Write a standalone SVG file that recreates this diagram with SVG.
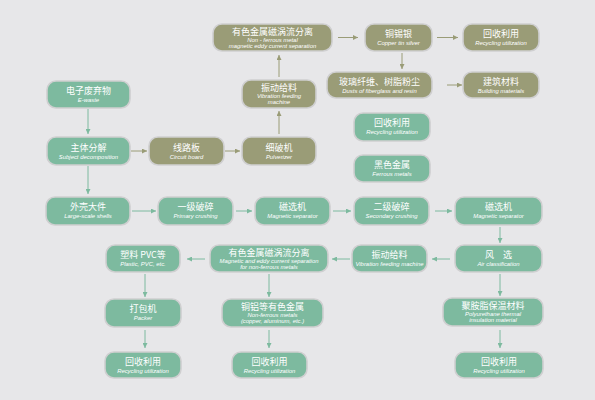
<svg xmlns="http://www.w3.org/2000/svg" width="595" height="400" viewBox="0 0 595 400">
<style>
.g rect{fill:#7dba9f;stroke:#cfcfd0;stroke-width:1.6}
.o rect{fill:#9a9c77;stroke:#cfcfd0;stroke-width:1.6}
.cn{font-family:"Noto Sans CJK SC","Noto Sans",sans-serif;font-size:9px;fill:#fff;text-anchor:middle}
.en{font-family:"Liberation Sans",Arial,sans-serif;font-size:5.9px;font-style:italic;fill:#fff;text-anchor:middle}
.cg{stroke:#7dba9f;stroke-width:1;fill:none}
.co{stroke:#9a9c77;stroke-width:1;fill:none}
</style>
<defs>
<marker id="ag" viewBox="0 0 6 6" refX="6" refY="3" markerWidth="5" markerHeight="5" orient="auto" markerUnits="userSpaceOnUse"><path d="M0,0 L6,3 L0,6 z" fill="#7dba9f"/></marker>
<marker id="ao" viewBox="0 0 6 6" refX="6" refY="3" markerWidth="5" markerHeight="5" orient="auto" markerUnits="userSpaceOnUse"><path d="M0,0 L6,3 L0,6 z" fill="#9a9c77"/></marker>
</defs>
<rect x="0" y="0" width="595" height="400" fill="#e7e7e9"/>

<g id="connectors">
<line class="cg" x1="88" y1="109" x2="88" y2="134" marker-end="url(#ag)"/>
<line class="cg" x1="88" y1="166" x2="88" y2="194" marker-end="url(#ag)"/>
<line class="co" x1="131" y1="151" x2="147" y2="151" marker-end="url(#ao)"/>
<line class="co" x1="225" y1="151" x2="240" y2="151" marker-end="url(#ao)"/>
<line class="co" x1="279" y1="134" x2="279" y2="111" marker-end="url(#ao)"/>
<line class="co" x1="279" y1="77" x2="279" y2="55" marker-end="url(#ao)"/>
<line class="co" x1="338" y1="37.5" x2="358" y2="37.5" marker-end="url(#ao)"/>
<line class="co" x1="437" y1="37.5" x2="458" y2="37.5" marker-end="url(#ao)"/>
<line class="co" x1="402" y1="53" x2="402" y2="69" marker-end="url(#ao)"/>
<line class="co" x1="447" y1="85" x2="462" y2="85" marker-end="url(#ao)"/>
<line class="cg" x1="132" y1="211" x2="156" y2="211" marker-end="url(#ag)"/>
<line class="cg" x1="236" y1="211" x2="252" y2="211" marker-end="url(#ag)"/>
<line class="cg" x1="333" y1="211" x2="351" y2="211" marker-end="url(#ag)"/>
<line class="cg" x1="435" y1="211" x2="452" y2="211" marker-end="url(#ag)"/>
<line class="cg" x1="500" y1="227" x2="500" y2="243" marker-end="url(#ag)"/>
<line class="cg" x1="450" y1="259" x2="432" y2="259" marker-end="url(#ag)"/>
<line class="cg" x1="350" y1="259" x2="332" y2="259" marker-end="url(#ag)"/>
<line class="cg" x1="205" y1="259" x2="187" y2="259" marker-end="url(#ag)"/>
<line class="cg" x1="145" y1="274" x2="145" y2="297" marker-end="url(#ag)"/>
<line class="cg" x1="269" y1="274" x2="269" y2="297" marker-end="url(#ag)"/>
<line class="cg" x1="500" y1="274" x2="500" y2="296" marker-end="url(#ag)"/>
<line class="cg" x1="145" y1="330" x2="145" y2="348" marker-end="url(#ag)"/>
<line class="cg" x1="269" y1="330" x2="269" y2="348" marker-end="url(#ag)"/>
<line class="cg" x1="500" y1="330" x2="500" y2="348" marker-end="url(#ag)"/>
</g>

<g id="n-top-eddy" class="o"><rect x="213" y="24" width="119" height="27" rx="9"/>
<text class="cn" x="272.5" y="34.5">有色金属磁涡流分离</text>
<text class="en" x="272.5" y="41.5">Non - ferrous metal</text>
<text class="en" x="272.5" y="47.5">magnetic eddy current separation</text></g>

<g id="n-cu-sn-ag" class="o"><rect x="365" y="24" width="67" height="27" rx="9"/>
<text class="cn" x="398.5" y="37">铜锡银</text>
<text class="en" x="398.5" y="45">Copper tin silver</text></g>

<g id="n-top-recycle" class="o"><rect x="463" y="24" width="76" height="27" rx="9"/>
<text class="cn" x="501" y="37">回收利用</text>
<text class="en" x="501" y="45">Recycling utilization</text></g>

<g id="n-vib-top" class="o"><rect x="242" y="80" width="74" height="28" rx="9"/>
<text class="cn" x="279" y="90.5">振动给料</text>
<text class="en" x="279" y="97.5">Vibration feeding</text>
<text class="en" x="279" y="103.5">machine</text></g>

<g id="n-glass" class="o"><rect x="327" y="72" width="105" height="26" rx="9"/>
<text class="cn" x="379.5" y="84.5">玻璃纤维、树脂粉尘</text>
<text class="en" x="379.5" y="92.5">Dusts of fiberglass and resin</text></g>

<g id="n-building" class="o"><rect x="463" y="72" width="76" height="26" rx="9"/>
<text class="cn" x="501" y="84.5">建筑材料</text>
<text class="en" x="501" y="92.5">Building materials</text></g>

<g id="n-ewaste" class="g"><rect x="47" y="81" width="83" height="27" rx="9"/>
<text class="cn" x="88.5" y="94">电子废弃物</text>
<text class="en" x="88.5" y="102">E-waste</text></g>

<g id="n-decomp" class="g"><rect x="47" y="137" width="83" height="28" rx="9"/>
<text class="cn" x="88.5" y="150.5">主体分解</text>
<text class="en" x="88.5" y="158.5">Subject decomposition</text></g>

<g id="n-circuit" class="o"><rect x="149" y="137" width="75" height="28" rx="9"/>
<text class="cn" x="186.5" y="150.5">线路板</text>
<text class="en" x="186.5" y="158.5">Circuit board</text></g>

<g id="n-pulverizer" class="o"><rect x="242" y="137" width="74" height="28" rx="9"/>
<text class="cn" x="279" y="150.5">细破机</text>
<text class="en" x="279" y="158.5">Pulverizer</text></g>

<g id="n-mid-recycle" class="g"><rect x="354" y="113" width="76" height="28" rx="9"/>
<text class="cn" x="392" y="126">回收利用</text>
<text class="en" x="392" y="134">Recycling utilization</text></g>

<g id="n-ferrous" class="g"><rect x="354" y="155" width="76" height="27" rx="9"/>
<text class="cn" x="392" y="168">黑色金属</text>
<text class="en" x="392" y="176">Ferrous metals</text></g>

<g id="n-shells" class="g"><rect x="46" y="197" width="84" height="28" rx="9"/>
<text class="cn" x="88" y="210">外壳大件</text>
<text class="en" x="88" y="218">Large-scale shells</text></g>

<g id="n-primary" class="g"><rect x="158" y="197" width="75" height="28" rx="9"/>
<text class="cn" x="195.5" y="210">一级破碎</text>
<text class="en" x="195.5" y="218">Primary crushing</text></g>

<g id="n-mag1" class="g"><rect x="255" y="197" width="75" height="28" rx="9"/>
<text class="cn" x="292.5" y="210">磁选机</text>
<text class="en" x="292.5" y="218">Magnetic separator</text></g>

<g id="n-secondary" class="g"><rect x="354" y="197" width="75" height="28" rx="9"/>
<text class="cn" x="391.5" y="210">二级破碎</text>
<text class="en" x="391.5" y="218">Secondary crushing</text></g>

<g id="n-mag2" class="g"><rect x="455" y="197" width="87" height="28" rx="9"/>
<text class="cn" x="498.5" y="210">磁选机</text>
<text class="en" x="498.5" y="218">Magnetic separator</text></g>

<g id="n-plastic" class="g"><rect x="106" y="245" width="74" height="27" rx="9"/>
<text class="cn" x="143" y="257.5">塑料 PVC等</text>
<text class="en" x="143" y="265.5">Plastic, PVC, etc.</text></g>

<g id="n-eddy2" class="g"><rect x="210" y="245" width="118" height="27" rx="9"/>
<text class="cn" x="269" y="255.5">有色金属磁涡流分离</text>
<text class="en" x="269" y="262.5">Magnetic and eddy current separation</text>
<text class="en" x="269" y="268.5">for non-ferrous metals</text></g>

<g id="n-vib2" class="g"><rect x="352" y="245" width="75" height="27" rx="9"/>
<text class="cn" x="389.5" y="257.5">振动给料</text>
<text class="en" x="389.5" y="265.5">Vibration feeding machine</text></g>

<g id="n-air" class="g"><rect x="455" y="245" width="87" height="27" rx="9"/>
<text class="cn" x="498.5" y="257.5">风　选</text>
<text class="en" x="498.5" y="265.5">Air classification</text></g>

<g id="n-packer" class="g"><rect x="105" y="299" width="76" height="28" rx="9"/>
<text class="cn" x="143" y="312">打包机</text>
<text class="en" x="143" y="320">Packer</text></g>

<g id="n-nonferrous" class="g"><rect x="222" y="299" width="101" height="28" rx="9"/>
<text class="cn" x="272.5" y="309.5">铜铝等有色金属</text>
<text class="en" x="272.5" y="316.5">Non-ferrous metals</text>
<text class="en" x="272.5" y="322.5">(copper, aluminum, etc.)</text></g>

<g id="n-pu" class="g"><rect x="443" y="298" width="100" height="28" rx="9"/>
<text class="cn" x="493" y="308.5">聚胺脂保温材料</text>
<text class="en" x="493" y="315.5">Polyurethane thermal</text>
<text class="en" x="493" y="321.5">insulation material</text></g>

<g id="n-rec1" class="g"><rect x="105" y="352" width="76" height="26" rx="9"/>
<text class="cn" x="143" y="364.5">回收利用</text>
<text class="en" x="143" y="372.5">Recycling utilization</text></g>

<g id="n-rec2" class="g"><rect x="232" y="352" width="75" height="26" rx="9"/>
<text class="cn" x="269.5" y="364.5">回收利用</text>
<text class="en" x="269.5" y="372.5">Recycling utilization</text></g>

<g id="n-rec3" class="g"><rect x="455" y="352" width="88" height="26" rx="9"/>
<text class="cn" x="499" y="364.5">回收利用</text>
<text class="en" x="499" y="372.5">Recycling utilization</text></g>
</svg>
